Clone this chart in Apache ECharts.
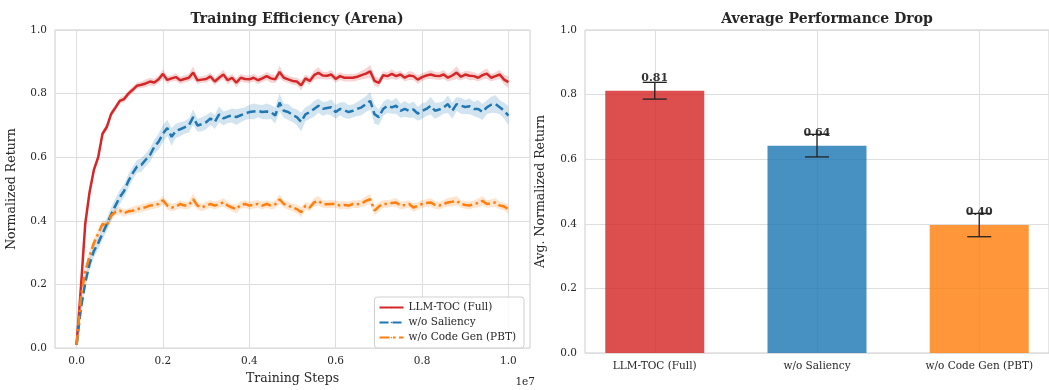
<!DOCTYPE html>
<html>
<head>
<meta charset="utf-8">
<script src="https://cdn.jsdelivr.net/npm/echarts@6/dist/echarts.min.js"></script>
<style>html,body{margin:0;padding:0;background:#fff}#c{width:1049px;height:390px}</style>
</head>
<body>
<div id="c"></div>
<script>
// ---------- data ----------
const steps = Array.from({length: 101}, (_, k) => k * 100000);
const xTicks = [0, 2000000, 4000000, 6000000, 8000000, 10000000];
const seriesNames = ['LLM-TOC (Full)', 'w/o Saliency', 'w/o Code Gen (PBT)'];

const fullMean = [
  0.01,0.19,0.39,0.49,0.56,0.60,0.674,0.695,0.736,0.756,
  0.777,0.783,0.80,0.812,0.825,0.828,0.832,0.838,0.835,0.845,
  0.862,0.843,0.848,0.852,0.842,0.846,0.85,0.866,0.842,0.844,
  0.846,0.854,0.838,0.85,0.86,0.842,0.85,0.834,0.85,0.846,
  0.845,0.85,0.842,0.848,0.855,0.848,0.845,0.868,0.85,0.845,
  0.84,0.838,0.826,0.848,0.84,0.858,0.865,0.857,0.856,0.86,
  0.846,0.855,0.85,0.85,0.85,0.853,0.858,0.863,0.87,0.84,
  0.834,0.858,0.855,0.862,0.855,0.86,0.85,0.857,0.855,0.844,
  0.852,0.857,0.86,0.856,0.855,0.86,0.85,0.857,0.866,0.853,
  0.86,0.856,0.855,0.85,0.858,0.863,0.85,0.855,0.86,0.844,
  0.836
];
const fullSpread = [
  0.003,0.01,0.012,0.012,0.01,0.01,0.01,0.01,0.01,0.01,
  0.01,0.01,0.01,0.01,0.01,0.01,0.012,0.012,0.012,0.012,
  0.015,0.012,0.01,0.012,0.012,0.012,0.012,0.02,0.012,0.01,
  0.012,0.012,0.012,0.012,0.015,0.012,0.012,0.014,0.012,0.012,
  0.012,0.012,0.012,0.012,0.012,0.014,0.012,0.02,0.012,0.012,
  0.012,0.012,0.016,0.012,0.012,0.015,0.018,0.012,0.012,0.014,
  0.012,0.012,0.012,0.012,0.012,0.012,0.014,0.016,0.02,0.016,
  0.014,0.012,0.012,0.015,0.012,0.012,0.012,0.014,0.012,0.014,
  0.012,0.012,0.014,0.012,0.012,0.014,0.012,0.015,0.02,0.012,
  0.012,0.014,0.012,0.012,0.014,0.016,0.012,0.012,0.014,0.015,
  0.018
];
const salMean = [
  0.01,0.125,0.205,0.265,0.305,0.33,0.36,0.39,0.42,0.448,
  0.474,0.494,0.525,0.55,0.571,0.576,0.592,0.607,0.633,0.649,
  0.674,0.692,0.664,0.683,0.688,0.694,0.70,0.726,0.70,0.704,
  0.71,0.722,0.711,0.735,0.722,0.728,0.731,0.726,0.732,0.737,
  0.742,0.744,0.746,0.742,0.744,0.742,0.731,0.772,0.746,0.742,
  0.733,0.726,0.711,0.735,0.742,0.752,0.762,0.752,0.755,0.757,
  0.742,0.752,0.748,0.742,0.746,0.752,0.757,0.767,0.777,0.735,
  0.726,0.752,0.762,0.757,0.762,0.746,0.752,0.746,0.75,0.737,
  0.745,0.752,0.762,0.746,0.75,0.757,0.767,0.746,0.767,0.762,
  0.758,0.76,0.752,0.752,0.742,0.757,0.765,0.767,0.757,0.746,
  0.731
];
const salSpread = [
  0.005,0.015,0.02,0.02,0.02,0.02,0.02,0.02,0.022,0.022,
  0.022,0.02,0.022,0.02,0.02,0.022,0.02,0.022,0.022,0.025,
  0.028,0.025,0.028,0.022,0.022,0.02,0.022,0.025,0.02,0.022,
  0.022,0.02,0.022,0.025,0.022,0.02,0.022,0.025,0.022,0.02,
  0.022,0.025,0.02,0.022,0.025,0.022,0.025,0.028,0.022,0.025,
  0.022,0.025,0.03,0.022,0.022,0.025,0.022,0.022,0.02,0.025,
  0.022,0.02,0.025,0.022,0.02,0.022,0.025,0.025,0.028,0.03,
  0.025,0.022,0.022,0.02,0.025,0.022,0.025,0.022,0.025,0.022,
  0.025,0.022,0.028,0.025,0.022,0.02,0.028,0.025,0.022,0.025,
  0.022,0.025,0.022,0.028,0.025,0.022,0.025,0.028,0.022,0.025,
  0.03
];
const pbtMean = [
  0.01,0.16,0.24,0.29,0.33,0.36,0.39,0.385,0.417,0.428,
  0.432,0.424,0.43,0.432,0.437,0.44,0.443,0.448,0.45,0.453,
  0.465,0.448,0.442,0.445,0.453,0.448,0.45,0.468,0.448,0.442,
  0.448,0.453,0.448,0.453,0.458,0.448,0.442,0.437,0.45,0.453,
  0.448,0.451,0.453,0.448,0.453,0.448,0.452,0.468,0.453,0.448,
  0.442,0.437,0.427,0.448,0.442,0.458,0.463,0.453,0.452,0.453,
  0.453,0.448,0.45,0.448,0.453,0.452,0.455,0.463,0.468,0.432,
  0.445,0.453,0.453,0.456,0.458,0.448,0.45,0.453,0.442,0.447,
  0.453,0.456,0.458,0.45,0.448,0.453,0.458,0.46,0.463,0.453,
  0.45,0.448,0.453,0.456,0.463,0.453,0.455,0.458,0.448,0.445,
  0.437
];
const pbtSpread = [
  0.003,0.012,0.015,0.015,0.015,0.012,0.012,0.012,0.012,0.01,
  0.012,0.012,0.01,0.012,0.012,0.012,0.012,0.012,0.012,0.012,
  0.014,0.012,0.012,0.012,0.012,0.012,0.012,0.018,0.012,0.012,
  0.012,0.012,0.012,0.012,0.014,0.012,0.012,0.014,0.012,0.012,
  0.012,0.012,0.012,0.012,0.012,0.012,0.012,0.016,0.012,0.012,
  0.012,0.014,0.016,0.012,0.012,0.014,0.015,0.012,0.012,0.012,
  0.012,0.012,0.012,0.012,0.012,0.012,0.012,0.014,0.016,0.016,
  0.014,0.012,0.012,0.012,0.014,0.012,0.012,0.012,0.014,0.012,
  0.012,0.012,0.014,0.012,0.012,0.012,0.014,0.014,0.015,0.012,
  0.012,0.012,0.012,0.014,0.015,0.012,0.012,0.014,0.012,0.012,
  0.015
];

const barCategories = ['LLM-TOC (Full)', 'w/o Saliency', 'w/o Code Gen (PBT)'];
const barValues = [0.812, 0.642, 0.396];
const barErrors = [0.026, 0.035, 0.036];
const barPositions = [0, 1, 2];

// ---------- styles ----------
const colors = ['#d62728', '#1f77b4', '#ff7f0e'];
const bandColors = ['rgba(214,39,40,0.2)', 'rgba(31,119,180,0.2)', 'rgba(255,127,14,0.2)'];
const barColors = ['rgba(214,39,40,0.82)', 'rgba(31,119,180,0.82)', 'rgba(255,127,14,0.82)'];
const FONT = 'DejaVu Serif';
const TXT = '#262626';
const GRID = '#dedede';
const FRAME = '#cccccc';

const means = [fullMean, salMean, pbtMean];
const spreads = [fullSpread, salSpread, pbtSpread];
const dashes = ['solid', [9, 4], [10, 3.5, 2.5, 3.5]];

const series = [];
means.forEach((m, i) => {
  const s = spreads[i];
  series.push({
    name: 'band_' + i, type: 'custom', xAxisIndex: 0, yAxisIndex: 0, silent: true, z: 1,
    data: m.map((v, k) => [steps[k], v - s[k], v + s[k]]),
    renderItem: (params, api) => {
      if (params.dataIndex !== 0) return null;
      const pts = [];
      for (let k = 0; k < m.length; k++) pts.push(api.coord([steps[k], m[k] + s[k]]));
      for (let k = m.length - 1; k >= 0; k--) pts.push(api.coord([steps[k], m[k] - s[k]]));
      return {type: 'polygon', shape: {points: pts}, style: {fill: bandColors[i], stroke: null}};
    }
  });
});
means.forEach((m, i) => {
  series.push({
    name: seriesNames[i], type: 'line', xAxisIndex: 0, yAxisIndex: 0,
    data: m.map((v, k) => [steps[k], v]), symbol: 'none',
    lineStyle: {color: colors[i], width: 2.5, type: dashes[i]},
    itemStyle: {color: colors[i]}, z: 3 + i
  });
});

series.push({
  name: 'bars', type: 'bar', xAxisIndex: 1, yAxisIndex: 1,
  barWidth: 99,
  data: barValues.map((v, i) => ({value: [barPositions[i], v], itemStyle: {color: barColors[i]}})),
  label: {show: true, position: 'top', distance: 7, fontFamily: FONT, fontWeight: 'bold', fontSize: 11, color: '#333',
    formatter: p => p.value[1].toFixed(2)},
  z: 2
});
series.push({
  name: 'errors', type: 'custom', xAxisIndex: 1, yAxisIndex: 1,
  data: barValues.map((v, i) => [barPositions[i], v - barErrors[i], v + barErrors[i]]),
  renderItem: (params, api) => {
    const x = api.value(0);
    const lo = api.coord([x, api.value(1)]);
    const hi = api.coord([x, api.value(2)]);
    const cap = 12;
    const st = {stroke: '#222', lineWidth: 1.3};
    return {type: 'group', children: [
      {type: 'line', shape: {x1: lo[0], y1: lo[1], x2: hi[0], y2: hi[1]}, style: st},
      {type: 'line', shape: {x1: lo[0] - cap, y1: lo[1], x2: lo[0] + cap, y2: lo[1]}, style: st},
      {type: 'line', shape: {x1: hi[0] - cap, y1: hi[1], x2: hi[0] + cap, y2: hi[1]}, style: st}
    ]};
  },
  z: 3
});

const yAxisCommon = {
  type: 'value', min: 0, max: 1, interval: 0.2,
  axisLine: {show: false}, axisTick: {show: false},
  axisLabel: {fontFamily: FONT, fontSize: 10.5, color: TXT, margin: 8, formatter: v => v.toFixed(1)},
  splitLine: {show: true, lineStyle: {color: GRID, width: 1}},
  nameLocation: 'middle', nameTextStyle: {fontFamily: FONT, fontSize: 12.5, color: TXT}
};

const option = {
  animation: false,
  backgroundColor: '#fff',
  textStyle: {fontFamily: FONT},
  title: [
    {text: 'Training Efficiency (Arena)', left: 292, top: 7, textAlign: 'center',
      textStyle: {fontFamily: FONT, fontWeight: 'bold', fontSize: 14, color: TXT}},
    {text: 'Average Performance Drop', left: 822, top: 7, textAlign: 'center',
      textStyle: {fontFamily: FONT, fontWeight: 'bold', fontSize: 14, color: TXT}},
    {text: '1e7', left: 530, top: 372, textAlign: 'right',
      textStyle: {fontFamily: FONT, fontWeight: 'normal', fontSize: 10.5, color: TXT}}
  ],
  grid: [
    {left: 55, right: 519, top: 30, bottom: 37, show: true, borderColor: FRAME, borderWidth: 1},
    {left: 585, right: -11, top: 30, bottom: 37, show: true, borderColor: FRAME, borderWidth: 1}
  ],
  legend: {
    data: seriesNames, orient: 'vertical', right: 525, bottom: 42,
    itemWidth: 24, itemHeight: 2, itemGap: 4,
    padding: [5, 8, 5, 4],
    backgroundColor: 'rgba(255,255,255,0.85)', borderColor: '#d0d0d0', borderWidth: 1, borderRadius: 3,
    textStyle: {fontFamily: FONT, fontSize: 10.5, color: TXT}
  },
  xAxis: [
    {gridIndex: 0, type: 'value', min: -500000, max: 10500000,
      axisLine: {show: false},
      axisTick: {show: false, customValues: xTicks},
      axisLabel: {customValues: xTicks, fontFamily: FONT, fontSize: 10.5, color: TXT, margin: 8,
        formatter: v => (v / 1e7).toFixed(1)},
      splitLine: {show: true, lineStyle: {color: GRID, width: 1}},
      name: 'Training Steps', nameLocation: 'middle', nameGap: 22,
      nameTextStyle: {fontFamily: FONT, fontSize: 12.5, color: TXT}},
    {gridIndex: 1, type: 'value', min: -0.43, max: 2.43,
      axisLine: {show: false},
      axisTick: {show: false, customValues: barPositions},
      axisLabel: {customValues: barPositions, fontFamily: FONT, fontSize: 10.5, color: TXT, margin: 8,
        formatter: v => barCategories[Math.round(v)]},
      splitLine: {show: true, lineStyle: {color: GRID, width: 1}}}
  ],
  yAxis: [
    Object.assign({}, yAxisCommon, {gridIndex: 0, name: 'Normalized Return', nameGap: 37}),
    Object.assign({}, yAxisCommon, {gridIndex: 1, name: 'Avg. Normalized Return', nameGap: 38})
  ],
  series: series
};

const chart = echarts.init(document.getElementById('c'), null, {renderer: 'canvas'});
chart.setOption(option);
</script>
</body>
</html>
